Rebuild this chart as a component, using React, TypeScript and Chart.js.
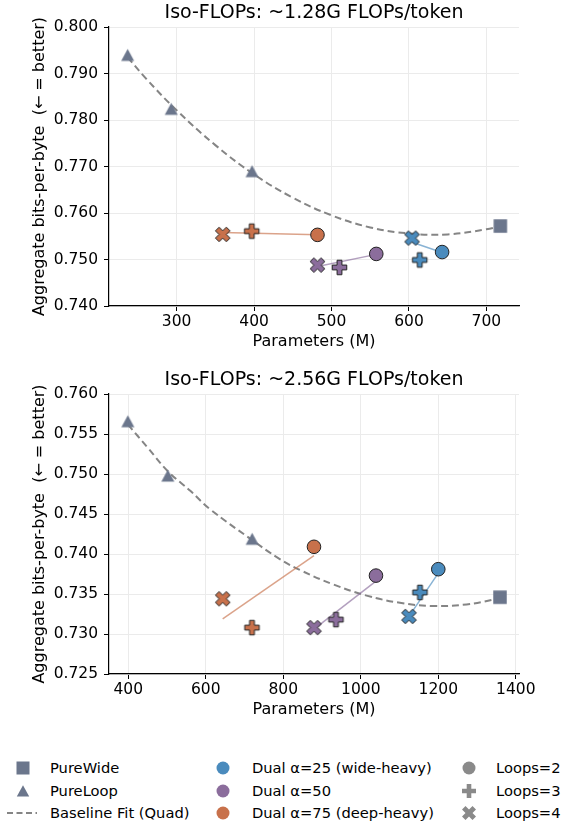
import React, { useEffect, useRef } from "react";
import { Chart, registerables } from "chart.js";
Chart.register(...registerables);

const FONT = "'DejaVu Sans', sans-serif";

// ---------- colours ----------
const C_BASE = "#6b768c";
const C_A25 = "#4a8bbd";
const C_A50 = "#8b6d9c";
const C_A75 = "#c8714b";
const C_FIT = "#858585";
const C_GRAY = "#8a8a8a";

// ---------- top panel: ~1.28G FLOPs/token ----------
const topTitle = "Iso-FLOPs: ~1.28G FLOPs/token";
const topXRange = [212.7, 742.1];
const topYRange = [0.74, 0.8];
const topXTicks = [300, 400, 500, 600, 700];
const topYTicks = [0.74, 0.75, 0.76, 0.77, 0.78, 0.79, 0.8];
const topPureWideX = [718.0];
const topPureWideY = [0.7572];
const topPureLoopX = [236.8, 293.0, 397.4];
const topPureLoopY = [0.794, 0.7824, 0.769];
const topFitX = [236.8, 260, 300, 350, 400, 450, 500, 550, 600, 650, 700, 718];
const topFitY = [0.7935, 0.789, 0.7821, 0.7746, 0.7683, 0.7633, 0.7595, 0.7569, 0.7556, 0.7554, 0.7565, 0.7572];
// order within each Dual series: Loops=2, Loops=3, Loops=4
const topA25X = [642.8, 613.9, 604.0];
const topA25Y = [0.7516, 0.7499, 0.7546];
const topA50X = [557.8, 510.3, 481.9];
const topA50Y = [0.7512, 0.7483, 0.7488];
const topA75X = [481.9, 397.0, 359.5];
const topA75Y = [0.7553, 0.7561, 0.7554];
const topA25LineX = [604.0, 642.8];
const topA25LineY = [0.7537, 0.7515];
const topA50LineX = [481.9, 557.8];
const topA50LineY = [0.7485, 0.7511];
const topA75LineX = [359.5, 481.9];
const topA75LineY = [0.7558, 0.7553];

// ---------- bottom panel: ~2.56G FLOPs/token ----------
const botTitle = "Iso-FLOPs: ~2.56G FLOPs/token";
const botXRange = [350.2, 1408.3];
const botYRange = [0.725, 0.76];
const botXTicks = [400, 600, 800, 1000, 1200, 1400];
const botYTicks = [0.725, 0.73, 0.735, 0.74, 0.745, 0.75, 0.755, 0.76];
const botPureWideX = [1359.2];
const botPureWideY = [0.7346];
const botPureLoopX = [398.8, 502.0, 719.7];
const botPureLoopY = [0.7566, 0.7498, 0.7419];
const botFitX = [398.8, 450, 503, 560, 611, 718, 790, 843, 929, 1015, 1101, 1187, 1273, 1342, 1360];
const botFitY = [0.7562, 0.7533, 0.7503, 0.7479, 0.7456, 0.7418, 0.7394, 0.738, 0.7362, 0.7348, 0.7339, 0.7335, 0.7337, 0.7343, 0.7346];
const botA25X = [1200.0, 1152.8, 1124.4];
const botA25Y = [0.7381, 0.7352, 0.7322];
const botA50X = [1039.2, 936.0, 879.2];
const botA50Y = [0.7373, 0.7318, 0.7308];
const botA75X = [879.2, 719.2, 643.6];
const botA75Y = [0.7409, 0.7308, 0.7344];
const botA25LineX = [1124.4, 1200.0];
const botA25LineY = [0.7322, 0.7376];
const botA50LineX = [879.2, 1039.2];
const botA50LineY = [0.7306, 0.7366];
const botA75LineX = [643.6, 879.2];
const botA75LineY = [0.7319, 0.7398];

const yTitle = "Aggregate bits-per-byte  (\u2190 = better)";
const xTitle = "Parameters (M)";

const pts = (xs: number[], ys: number[]) => xs.map((x, i) => ({ x, y: ys[i] }));

function shape(kind: string, color: string, w: number, h: number, edge: boolean): HTMLCanvasElement {
  const c = document.createElement("canvas");
  const S = Math.ceil(Math.max(w, h) + 4);
  c.width = S;
  c.height = S;
  const ctx = c.getContext("2d")!;
  ctx.translate(S / 2, S / 2);
  const hw = w / 2;
  const hh = h / 2;
  let p: number[][] = [];
  if (kind === "plus")
    p = [[-1, -3], [1, -3], [1, -1], [3, -1], [3, 1], [1, 1], [1, 3], [-1, 3], [-1, 1], [-3, 1], [-3, -1], [-1, -1]].map(([x, y]) => [(x / 3) * hw, (y / 3) * hh]);
  else if (kind === "x")
    p = [[-1, -2], [0, -1], [1, -2], [2, -1], [1, 0], [2, 1], [1, 2], [0, 1], [-1, 2], [-2, 1], [-1, 0], [-2, -1]].map(([x, y]) => [(x / 2) * hw, (y / 2) * hh]);
  else if (kind === "tri") p = [[0, -hh], [-hw, hh], [hw, hh]];
  else p = [[-hw, -hh], [hw, -hh], [hw, hh], [-hw, hh]];
  ctx.beginPath();
  p.forEach(([x, y], i) => (i ? ctx.lineTo(x, y) : ctx.moveTo(x, y)));
  ctx.closePath();
  ctx.fillStyle = color;
  ctx.fill();
  if (edge) {
    ctx.lineWidth = 1;
    ctx.strokeStyle = "#222";
    ctx.stroke();
  }
  return c;
}

const titlePlugin = {
  id: "panelTitle",
  afterDraw(chart: any, _a: any, opts: any) {
    const { ctx, chartArea } = chart;
    ctx.save();
    ctx.font = `19px ${FONT}`;
    ctx.fillStyle = "#000";
    ctx.textAlign = "center";
    ctx.textBaseline = "middle";
    ctx.fillText(opts.text, (chartArea.left + chartArea.right) / 2, chartArea.top - 14);
    ctx.restore();
  },
};

interface Panel {
  title: string;
  xRange: number[];
  yRange: number[];
  xTicks: number[];
  yTicks: number[];
  wideX: number[]; wideY: number[];
  loopX: number[]; loopY: number[];
  fitX: number[]; fitY: number[];
  a25X: number[]; a25Y: number[];
  a50X: number[]; a50Y: number[];
  a75X: number[]; a75Y: number[];
  l25X: number[]; l25Y: number[];
  l50X: number[]; l50Y: number[];
  l75X: number[]; l75Y: number[];
  padTop: number;
}

const topPanel: Panel = {
  title: topTitle, xRange: topXRange, yRange: topYRange, xTicks: topXTicks, yTicks: topYTicks,
  wideX: topPureWideX, wideY: topPureWideY, loopX: topPureLoopX, loopY: topPureLoopY,
  fitX: topFitX, fitY: topFitY,
  a25X: topA25X, a25Y: topA25Y, a50X: topA50X, a50Y: topA50Y, a75X: topA75X, a75Y: topA75Y,
  l25X: topA25LineX, l25Y: topA25LineY, l50X: topA50LineX, l50Y: topA50LineY, l75X: topA75LineX, l75Y: topA75LineY,
  padTop: 27,
};
const botPanel: Panel = {
  title: botTitle, xRange: botXRange, yRange: botYRange, xTicks: botXTicks, yTicks: botYTicks,
  wideX: botPureWideX, wideY: botPureWideY, loopX: botPureLoopX, loopY: botPureLoopY,
  fitX: botFitX, fitY: botFitY,
  a25X: botA25X, a25Y: botA25Y, a50X: botA50X, a50Y: botA50Y, a75X: botA75X, a75Y: botA75Y,
  l25X: botA25LineX, l25Y: botA25LineY, l50X: botA50LineX, l50Y: botA50LineY, l75X: botA75LineX, l75Y: botA75LineY,
  padTop: 34,
};

function makeChart(canvas: HTMLCanvasElement, p: Panel) {
  const tri = shape("tri", C_BASE, 13, 12, false);
  const sq = shape("sq", C_BASE, 13.5, 13.5, false);
  const dual = (xs: number[], ys: number[], color: string) => {
    const plus = shape("plus", color, 14.5, 14.5, true);
    const ex = shape("x", color, 14.5, 14.5, true);
    return {
      data: pts(xs, ys),
      pointStyle: ["circle", plus, ex] as any,
      pointRadius: [6.8, 8, 8],
      backgroundColor: color,
      borderColor: "#222",
      borderWidth: 1,
      showLine: false,
      order: 0,
    };
  };
  const fitLine = (xs: number[], ys: number[], color: string) => ({
    data: pts(xs, ys),
    showLine: true,
    borderColor: color,
    borderWidth: 1.5,
    pointRadius: 0,
    order: 1,
  });
  const tickFont = { family: FONT, size: 15.5 };
  const titleFont = { family: FONT, size: 16 };
  return new Chart(canvas, {
    type: "scatter",
    data: {
      datasets: [
        { data: pts(p.wideX, p.wideY), pointStyle: sq as any, pointRadius: 8, showLine: false, order: 0 },
        { data: pts(p.loopX, p.loopY), pointStyle: tri as any, pointRadius: 8, showLine: false, order: 0 },
        dual(p.a25X, p.a25Y, C_A25),
        dual(p.a50X, p.a50Y, C_A50),
        dual(p.a75X, p.a75Y, C_A75),
        fitLine(p.l25X, p.l25Y, "rgba(74,139,189,0.65)"),
        fitLine(p.l50X, p.l50Y, "rgba(139,109,156,0.65)"),
        fitLine(p.l75X, p.l75Y, "rgba(200,113,75,0.65)"),
        {
          data: pts(p.fitX, p.fitY),
          showLine: true,
          tension: 0.4,
          borderColor: C_FIT,
          borderWidth: 2,
          borderDash: [7, 4],
          pointRadius: 0,
          order: 2,
        },
      ] as any,
    },
    options: {
      responsive: false,
      maintainAspectRatio: false,
      animation: false,
      events: [],
      layout: { padding: { left: 0, right: 43, top: p.padTop, bottom: 0 } },
      plugins: {
        legend: { display: false },
        tooltip: { enabled: false },
        panelTitle: { text: p.title },
      } as any,
      scales: {
        x: {
          type: "linear",
          min: p.xRange[0],
          max: p.xRange[1],
          afterBuildTicks: (ax: any) => {
            ax.ticks = p.xTicks.map((v) => ({ value: v }));
          },
          afterFit: (ax: any) => {
            ax.height = 48;
          },
          ticks: {
            autoSkip: false,
            maxRotation: 0,
            padding: 2,
            color: "#000",
            font: tickFont,
            callback: (v: any) => String(v),
          },
          grid: { color: "#ebebeb", lineWidth: 1, tickLength: 5, tickColor: "#000", tickWidth: 1 },
          border: { color: "#000", width: 1.2 },
          title: { display: true, text: xTitle, color: "#000", font: titleFont, padding: { top: 0, bottom: 3 } },
        },
        y: {
          type: "linear",
          min: p.yRange[0],
          max: p.yRange[1],
          afterBuildTicks: (ax: any) => {
            ax.ticks = p.yTicks.map((v) => ({ value: v }));
          },
          afterFit: (ax: any) => {
            ax.width = 109;
          },
          ticks: {
            autoSkip: false,
            padding: 6,
            color: "#000",
            font: tickFont,
            callback: (v: any) => Number(v).toFixed(3),
          },
          grid: { color: "#ebebeb", lineWidth: 1, tickLength: 5, tickColor: "#000", tickWidth: 1 },
          border: { color: "#000", width: 1.2 },
          title: { display: true, text: yTitle, color: "#000", font: titleFont, padding: { top: 30, bottom: 0 } },
        },
      },
    } as any,
    plugins: [titlePlugin as any],
  });
}

function PanelChart({ panel, top, height }: { panel: Panel; top: number; height: number }) {
  const ref = useRef<HTMLCanvasElement | null>(null);
  useEffect(() => {
    if (!ref.current) return;
    const ch = makeChart(ref.current, panel);
    return () => ch.destroy();
  }, [panel]);
  return (
    <canvas
      ref={ref}
      width={562}
      height={height}
      style={{ position: "absolute", left: 0, top, width: 562, height }}
    />
  );
}

// ---------- legend ----------
const legendRows = [768, 790.5, 813];
const legendFont = 14.7;

function Marker({ kind, color, cx, cy }: { kind: string; color: string; cx: number; cy: number }) {
  const s = 20;
  let el: any = null;
  if (kind === "square") el = <rect x={10 - 6.5} y={10 - 6.5} width={13} height={13} fill={color} />;
  else if (kind === "tri") el = <polygon points="10,4.2 3.8,15.5 16.2,15.5" fill={color} />;
  else if (kind === "circle") el = <circle cx={10} cy={10} r={6.5} fill={color} />;
  else if (kind === "plus")
    el = <polygon points="7.7,3 12.3,3 12.3,7.7 17,7.7 17,12.3 12.3,12.3 12.3,17 7.7,17 7.7,12.3 3,12.3 3,7.7 7.7,7.7" fill={color} />;
  else if (kind === "x")
    el = <polygon points="6.5,3 10,6.5 13.5,3 17,6.5 13.5,10 17,13.5 13.5,17 10,13.5 6.5,17 3,13.5 6.5,10 3,6.5" fill={color} />;
  return (
    <svg width={s} height={s} style={{ position: "absolute", left: cx - 10, top: cy - 10 }}>
      {el}
    </svg>
  );
}

function LegendText({ x, y, text }: { x: number; y: number; text: string }) {
  return (
    <div
      style={{
        position: "absolute",
        left: x,
        top: y - 10,
        height: 20,
        lineHeight: "20px",
        fontFamily: FONT,
        fontSize: legendFont,
        color: "#000",
        whiteSpace: "pre",
      }}
    >
      {text}
    </div>
  );
}

export default function App() {
  useEffect(() => {
    document.body.style.margin = "0";
  }, []);
  return (
    <div style={{ position: "absolute", left: 0, top: 0, width: 562, height: 823, background: "#fff", overflow: "hidden" }}>
      <PanelChart panel={topPanel} top={0} height={354} />
      <PanelChart panel={botPanel} top={360} height={362} />
      {/* column 1 */}
      <Marker kind="square" color={C_BASE} cx={23} cy={legendRows[0]} />
      <LegendText x={50} y={legendRows[0]} text="PureWide" />
      <Marker kind="tri" color={C_BASE} cx={23} cy={legendRows[1]} />
      <LegendText x={50} y={legendRows[1]} text="PureLoop" />
      <svg width={34} height={6} style={{ position: "absolute", left: 6, top: legendRows[2] - 3 }}>
        <line x1={1} y1={3} x2={31} y2={3} stroke={C_FIT} strokeWidth={2} strokeDasharray="6 3.5" />
      </svg>
      <LegendText x={50} y={legendRows[2]} text="Baseline Fit (Quad)" />
      {/* column 2 */}
      <Marker kind="circle" color={C_A25} cx={223} cy={legendRows[0]} />
      <LegendText x={252} y={legendRows[0]} text={"Dual \u03b1=25 (wide-heavy)"} />
      <Marker kind="circle" color={C_A50} cx={223} cy={legendRows[1]} />
      <LegendText x={252} y={legendRows[1]} text={"Dual \u03b1=50"} />
      <Marker kind="circle" color={C_A75} cx={223} cy={legendRows[2]} />
      <LegendText x={252} y={legendRows[2]} text={"Dual \u03b1=75 (deep-heavy)"} />
      {/* column 3 */}
      <Marker kind="circle" color={C_GRAY} cx={469} cy={legendRows[0]} />
      <LegendText x={496} y={legendRows[0]} text="Loops=2" />
      <Marker kind="plus" color={C_GRAY} cx={469} cy={legendRows[1]} />
      <LegendText x={496} y={legendRows[1]} text="Loops=3" />
      <Marker kind="x" color={C_GRAY} cx={469} cy={legendRows[2]} />
      <LegendText x={496} y={legendRows[2]} text="Loops=4" />
    </div>
  );
}
